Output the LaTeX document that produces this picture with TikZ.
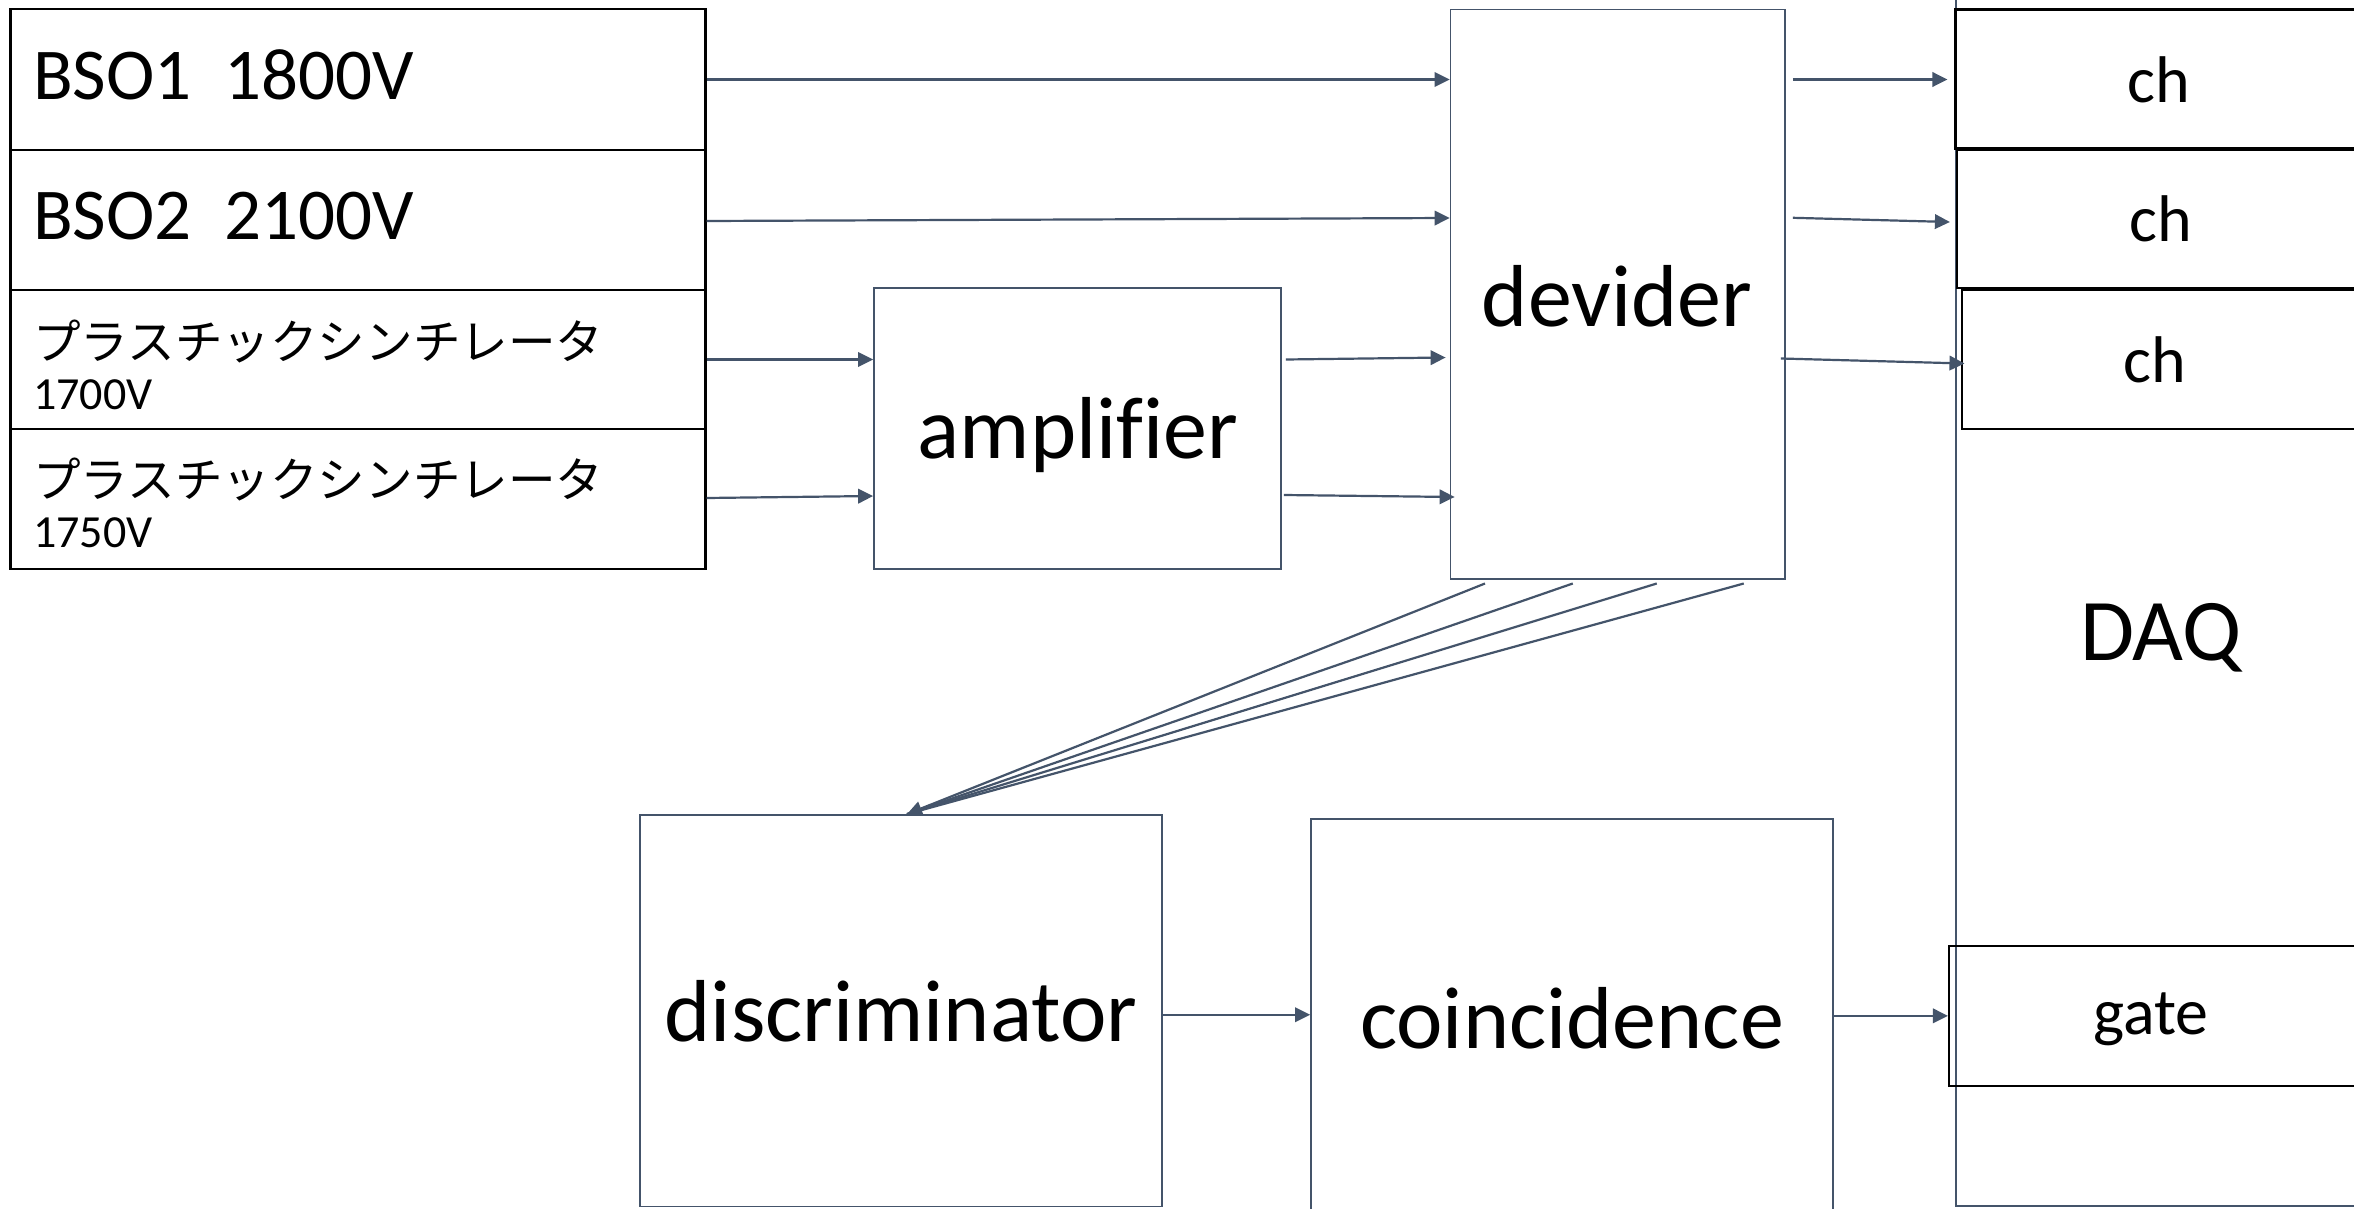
\documentclass[tikz,border=0pt]{standalone}
\usepackage{fontspec}
\setmainfont[Ligatures=NoCommon]{Carlito}
\newfontfamily\jpfont{Noto Sans CJK JP}
\usetikzlibrary{arrows.meta,calc}
\definecolor{slate}{RGB}{68,84,106}
\begin{document}
\begin{tikzpicture}[x=1pt,y=-1pt,
  blkbox/.style={draw=black,line width=2.2pt,inner sep=0pt},
  slbox/.style={draw=slate,line width=1.8pt,inner sep=0pt},
  conn/.style={draw=slate,line width=2.2pt},
  arr/.style={conn,-{Triangle[length=15pt,width=14.5pt]}},
  bigtxt/.style={font=\fontsize{88}{100}\selectfont,inner sep=0pt},
  bsotxt/.style={font=\fontsize{73}{84}\selectfont,inner sep=0pt,anchor=base west},
  chtxt/.style={font=\fontsize{66}{76}\selectfont,inner sep=0pt},
  jptxt/.style={font=\jpfont\fontsize{47.6}{56}\selectfont,inner sep=0pt,anchor=base west},
  volttxt/.style={font=\fontsize{46}{54}\selectfont,inner sep=0pt,anchor=base west}]
\useasboundingbox (0,0) rectangle (2354,1209);
\fill[white] (0,0) rectangle (2354,1209);
\clip (0,0) rectangle (2354,1209);

% source boxes
\node[blkbox,minimum width=695pt,minimum height=141pt] (bso1) at (358,79.5) {};
\node[blkbox,minimum width=695pt,minimum height=140pt] (bso2) at (358,220) {};
\node[blkbox,minimum width=695pt,minimum height=139pt] (pl1) at (358,359.5) {};
\node[blkbox,minimum width=695pt,minimum height=140pt] (pl2) at (358,499) {};
\node[bsotxt] (tb1) at (33,100) {BSO1\ \ 1800V};
\node[bsotxt] (tb2) at (33,240) {BSO2\ \ 2100V};
\node[jptxt] (tp1) at (33,359) {プラスチックシンチレータ};
\node[volttxt] (tv1) at (33,409) {1700V};
\node[jptxt] (tp2) at (33,497) {プラスチックシンチレータ};
\node[volttxt] (tv2) at (33,547.5) {1750V};

% processing boxes
\node[slbox,minimum width=407pt,minimum height=281pt] (amp) at (1077.5,428.5) {};
\node[bigtxt] (tamp) at (1078,435) {amplifier};
\node[slbox,minimum width=334.5pt,minimum height=569pt] (dev) at (1617.75,294.1) {};
\node[bigtxt] (tdev) at (1617,296) {devider};
\node[slbox,minimum width=522pt,minimum height=391.5pt] (disc) at (901,1010.75) {};
\node[bigtxt] (tdisc) at (901,1011) {discriminator};
\node[slbox,minimum width=522pt,minimum height=441pt] (coin) at (1572,1039.5) {};
\node[bigtxt] (tcoin) at (1572,1018) {coincidence};

% DAQ
\node[slbox,minimum width=444pt,minimum height=1216pt] (daq) at (2178,598) {};
\node[bigtxt] (tdaq) at (2161,638) {DAQ};
\node[blkbox,minimum width=444.5pt,minimum height=139pt] (ch1) at (2177.75,79) {};
\node[blkbox,minimum width=443pt,minimum height=138pt] (ch2) at (2178.5,219) {};
\node[blkbox,minimum width=438.4pt,minimum height=139.7pt] (ch3) at (2180.8,359.5) {};
\node[blkbox,minimum width=451pt,minimum height=139.7pt] (gate) at (2174.5,1015.85) {};
\node[chtxt] (tch1) at (2159,80) {ch};
\node[chtxt] (tch2) at (2161,219) {ch};
\node[chtxt] (tch3) at (2155,360) {ch};
\node[chtxt] (tgate) at (2151,1019) {gate};

% connectors
\draw[arr] (bso1.east) -- (bso1.east -| dev.west);
\draw[arr] ($(bso2.east)+(0,1)$) -- ($(bso2.east -| dev.west)+(0,-2)$);
\draw[arr] (pl1.east) -- (pl1.east -| amp.west);
\draw[arr] ($(pl2.east)+(0,-1)$) -- ($(pl2.east -| amp.west)+(0,-3)$);
\draw[arr] ($(amp.east |- pl1.east)+(4,0)$) -- ($(pl1.east -| dev.west)+(-4,-2)$);
\draw[arr] ($(amp.east |- pl2.east)+(2,-4)$) -- ($(pl2.east -| dev.west)+(5,-2)$);
\draw[arr] ($(dev.east |- ch1.west)+(7,0.5)$) -- ($(ch1.west)+(-7,0.5)$);
\draw[arr] ($(dev.east |- ch2.west)+(7,-1.2)$) -- ($(ch2.west)+(-6,3)$);
\draw[arr] ($(dev.east |- ch3.west)+(-5,-1)$) -- ($(ch3.west)+(4,4)$);
\coordinate (dtop) at ($(disc.north)+(6,0)$);
\draw[conn] ($(dev.south)+(-45,4)$) -- (dtop);
\draw[conn] ($(dev.south)+(39,4)$) -- (dtop);
\draw[conn] ($(dev.south)+(126,4)$) -- (dtop);
\draw[arr] ($(dev.south)+(-132.75,4)$) -- (dtop);
\draw[arr] ($(disc.east)+(0,4)$) -- ($(disc.east -| coin.west)+(0,4)$);
\draw[arr] (coin.east |- gate.west) -- (gate.west);
\end{tikzpicture}
\end{document}
